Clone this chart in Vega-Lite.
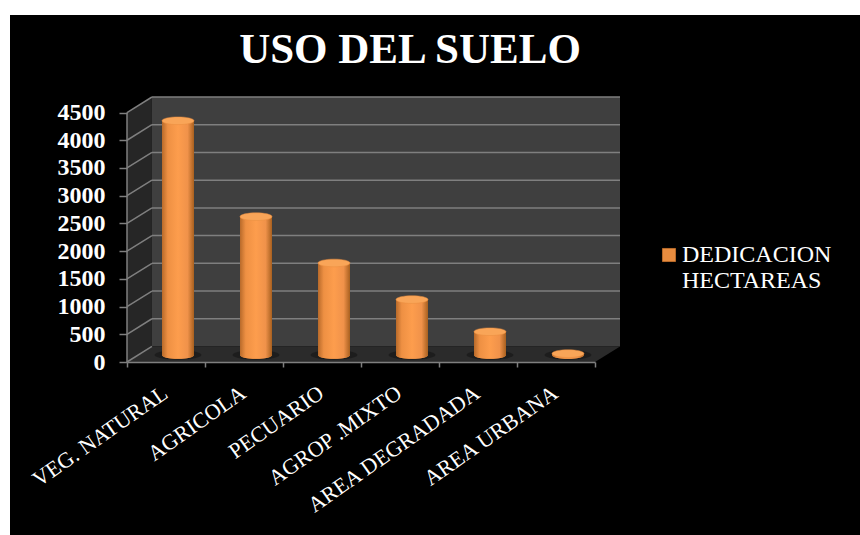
{
"$schema":"https://vega.github.io/schema/vega-lite/v6.json",
"autosize":"none","width":850,"height":520,
"padding":{"left":10,"top":15,"right":0,"bottom":0},
"background":"white",
"view":{"fill":"black","stroke":null},
"config":{"font":"Liberation Serif"},
"title":{"text":"USO DEL SUELO","font":"Liberation Serif","fontWeight":"bold","fontSize":43,"color":"white","anchor":"middle","dx":-25,"offset":-57},
"datasets":{
"bars":[
{"uso":"VEG. NATURAL","hectareas":4225,"serie":"DEDICACION HECTAREAS"},
{"uso":"AGRICOLA","hectareas":2495,"serie":"DEDICACION HECTAREAS"},
{"uso":"PECUARIO","hectareas":1660,"serie":"DEDICACION HECTAREAS"},
{"uso":"AGROP .MIXTO","hectareas":1000,"serie":"DEDICACION HECTAREAS"},
{"uso":"AREA DEGRADADA","hectareas":420,"serie":"DEDICACION HECTAREAS"},
{"uso":"AREA URBANA","hectareas":25,"serie":"DEDICACION HECTAREAS"}
],
"grid":[{"v":500},{"v":1000},{"v":1500},{"v":2000},{"v":2500},{"v":3000},{"v":3500},{"v":4000},{"v":4500}],
"sideLines":[
{"v":0,"d":0,"y":0},{"v":0,"d":0.32,"y":280},
{"v":500,"d":0,"y":500},{"v":500,"d":0.32,"y":780},
{"v":1000,"d":0,"y":1000},{"v":1000,"d":0.32,"y":1280},
{"v":1500,"d":0,"y":1500},{"v":1500,"d":0.32,"y":1780},
{"v":2000,"d":0,"y":2000},{"v":2000,"d":0.32,"y":2280},
{"v":2500,"d":0,"y":2500},{"v":2500,"d":0.32,"y":2780},
{"v":3000,"d":0,"y":3000},{"v":3000,"d":0.32,"y":3280},
{"v":3500,"d":0,"y":3500},{"v":3500,"d":0.32,"y":3780},
{"v":4000,"d":0,"y":4000},{"v":4000,"d":0.32,"y":4280},
{"v":4500,"d":0,"y":4500},{"v":4500,"d":0.32,"y":4780}
],
"floor":[{"d":0,"top":0,"bot":0},{"d":0.32,"top":280,"bot":0},{"d":6,"top":280,"bot":0},{"d":6.32,"top":280,"bot":280}],
"side":[{"d":0,"top":4500,"bot":0},{"d":0.32,"top":4780,"bot":280}],
"back":[{"d":0.32,"d2":6.32,"top":4780,"bot":280}]
},
"layer":[
{"layer":[
{"data":{"name":"back"},"mark":{"type":"rect","fill":"#3f3f3f"},
"encoding":{"x":{"field":"d","type":"quantitative","scale":{"domain":[0,6.32],"range":[117,610],"nice":false,"zero":false},"axis":null},"x2":{"field":"d2"},
"y":{"field":"top","type":"quantitative","scale":{"domain":[0,4780],"range":[347,82],"nice":false},
"axis":{"values":[0,500,1000,1500,2000,2500,3000,3500,4000,4500],"format":"d","offset":-117,"domain":false,"labelFontSize":24,"labelFont":"Liberation Serif","labelFontWeight":"bold","labelColor":"white","labelPadding":14,"tickColor":"#7f7f7f","tickWidth":1.5,"tickSize":8,"title":null,"grid":false,"zindex":1}},"y2":{"field":"bot"}}},
{"data":{"name":"side"},"mark":{"type":"area","fill":"#262626"},
"encoding":{"x":{"field":"d","type":"quantitative"},"y":{"field":"top","type":"quantitative"},"y2":{"field":"bot"}}},
{"data":{"name":"floor"},"mark":{"type":"area","fill":"#2b2b2b"},
"encoding":{"x":{"field":"d","type":"quantitative"},"y":{"field":"top","type":"quantitative"},"y2":{"field":"bot"}}},
{"data":{"name":"grid"},"transform":[{"calculate":"0.32","as":"a"},{"calculate":"6.32","as":"b"},{"calculate":"datum.v+280","as":"yy"}],
"mark":{"type":"rule","stroke":"#7f7f7f","strokeWidth":1.5},
"encoding":{"x":{"field":"a","type":"quantitative"},"x2":{"field":"b"},"y":{"field":"yy","type":"quantitative"}}},
{"data":{"name":"sideLines"},"mark":{"type":"line","stroke":"#7f7f7f","strokeWidth":1.5},
"encoding":{"x":{"field":"d","type":"quantitative"},"y":{"field":"y","type":"quantitative"},"detail":{"field":"v"}}},
{"data":{"name":"side"},"mark":{"type":"rule","stroke":"#7f7f7f","strokeWidth":1.5},
"transform":[{"filter":"datum.d==0"}],
"encoding":{"x":{"field":"d","type":"quantitative"},"y":{"field":"top","type":"quantitative"},"y2":{"field":"bot"}}}
]},
{"data":{"name":"bars"},"layer":[
{"mark":{"type":"point","shape":"M-1,0A1,0.2 0 1,0 1,0A1,0.2 0 1,0 -1,0Z","filled":true,"size":2200,"color":"#1a1a1a","opacity":0.8,"xOffset":12,"yOffset":-7},
"encoding":{"x":{"field":"uso","type":"nominal","sort":null,"scale":{"range":[117,585],"paddingInner":0,"paddingOuter":0},
"axis":{"orient":"bottom","offset":-173,"tickBand":"extent","labelAngle":-35,"labelFontSize":22,"labelFont":"Liberation Serif","labelColor":"white","labelPadding":15,"labelOffset":-7,"labelOverlap":false,"labelLimit":300,"domainColor":"#7f7f7f","domainWidth":1.5,"tickColor":"#7f7f7f","tickWidth":1.5,"tickSize":5,"title":null,"grid":false,"zindex":1}},
"y":{"datum":0,"type":"quantitative"}}},
{"mark":{"type":"point","shape":"M-1,0A1,0.24 0 1,0 1,0A1,0.24 0 1,0 -1,0Z","filled":true,"size":1024,"opacity":1,"xOffset":12,"yOffset":-7},
"encoding":{"x":{"field":"uso","type":"nominal","sort":null},"y":{"datum":0,"type":"quantitative"},
"color":{"field":"serie","type":"nominal","scale":{"range":["#e88c3f"]},
"legend":{"orient":"none","legendX":647,"legendY":228,"title":null,"symbolType":"square","symbolSize":170,"symbolStrokeColor":"#b86a2a","symbolStrokeWidth":1,"labelFont":"Liberation Serif","labelFontSize":24,"labelColor":"white","labelOffset":1,"labelLimit":220,"labelExpr":"['DEDICACION','HECTAREAS']"}}}},
{"mark":{"type":"point","shape":"M-1,0A1,0.24 0 1,0 1,0A1,0.24 0 1,0 -1,0Z","filled":true,"size":1024,"opacity":1,"xOffset":12,"yOffset":-7,"color":{"gradient":"linear","x1":0,"y1":0,"x2":1,"y2":0,"stops":[{"offset":0,"color":"#b86a2a"},{"offset":0.18,"color":"#ee9043"},{"offset":0.5,"color":"#fd9d4d"},{"offset":0.8,"color":"#f0924a"},{"offset":1,"color":"#a8601f"}]}},
"encoding":{"x":{"field":"uso","type":"nominal","sort":null},"y":{"datum":0,"type":"quantitative"}}},
{"mark":{"type":"bar","width":32,"xOffset":12,"yOffset":-7,"y2Offset":-7,"color":{"gradient":"linear","x1":0,"y1":0,"x2":1,"y2":0,"stops":[{"offset":0,"color":"#b86a2a"},{"offset":0.18,"color":"#ee9043"},{"offset":0.5,"color":"#fd9d4d"},{"offset":0.8,"color":"#f0924a"},{"offset":1,"color":"#a8601f"}]}},
"encoding":{"x":{"field":"uso","type":"nominal","sort":null},"y":{"field":"hectareas","type":"quantitative"},"y2":{"datum":0}}},
{"mark":{"type":"point","shape":"M-1,0A1,0.24 0 1,0 1,0A1,0.24 0 1,0 -1,0Z","filled":true,"size":1024,"opacity":1,"color":"#f9a558","stroke":"#e88c3f","strokeWidth":0.5,"xOffset":12,"yOffset":-7},
"encoding":{"x":{"field":"uso","type":"nominal","sort":null},"y":{"field":"hectareas","type":"quantitative"}}}
]}
],
"resolve":{"scale":{"x":"independent"},"axis":{"x":"independent"}}
}
